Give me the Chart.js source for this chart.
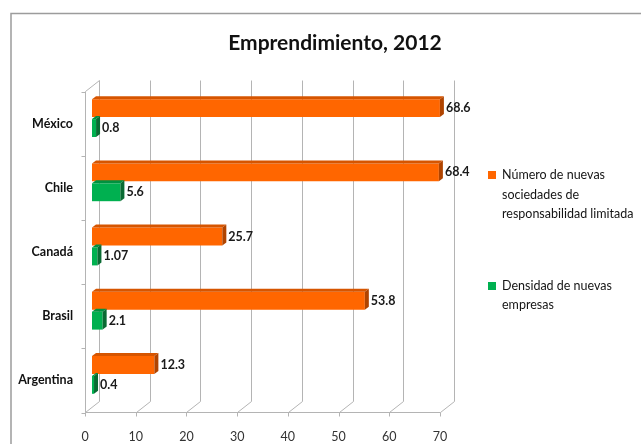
<!DOCTYPE html>
<html lang="es">
<head>
    <meta charset="UTF-8">
    <title>Emprendimiento, 2012</title>
    <script src="https://cdn.jsdelivr.net/npm/chart.js"></script>
    <style>
        body { margin: 0; background: #fff; font-family: Lato, sans-serif; }
        #wrap { position: relative; width: 641px; height: 444px; overflow: hidden; }
        #legend { position: absolute; left: 488px; top: 165px; font-size: 12.5px; color: #151515; line-height: 19.5px; }
        #legend .item { position: relative; padding-left: 14px; margin-bottom: 52px; }
        #legend .box { position: absolute; left: 0; top: 6px; width: 8px; height: 8px; }
    </style>
</head>
<body>
<div id="wrap">
    <canvas id="chart" width="641" height="444"></canvas>
    <div id="legend"></div>
</div>
<script>
    const categories = ['México', 'Chile', 'Canadá', 'Brasil', 'Argentina'];
    const sociedades = [68.6, 68.4, 25.7, 53.8, 12.3];
    const densidad = [0.8, 5.6, 1.07, 2.1, 0.4];
    const seriesNames = [
        ['Número de nuevas', 'sociedades de', 'responsabilidad limitada'],
        ['Densidad de nuevas', 'empresas']
    ];
    const xMin = 0, xMax = 70, xStep = 10;

    const colors = [
        { front: '#FF6600', top: '#D65500', side: '#B04400' },
        { front: '#00B050', top: '#00913F', side: '#0A6B33' }
    ];

    // half of the 3D depth: bars sit in the middle, walls at the back
    const half = { x: 7, y: -5.5 };
    const barDepth = { x: 4, y: -3 };
    const wallColor = '#B4B4B4';

    Chart.defaults.font.family = 'Lato, sans-serif';

    const frameAndTitle = {
        id: 'frameAndTitle',
        beforeDraw(chart) {
            const ctx = chart.ctx;
            ctx.save();
            ctx.strokeStyle = '#9C9C9C';
            ctx.lineWidth = 1.5;
            ctx.beginPath();
            ctx.moveTo(11, 444);
            ctx.lineTo(11, 13.5);
            ctx.lineTo(641, 13.5);
            ctx.stroke();
            ctx.fillStyle = '#111';
            ctx.font = 'bold 21px Lato, sans-serif';
            ctx.textAlign = 'center';
            ctx.textBaseline = 'middle';
            ctx.fillText('Emprendimiento, 2012', 335, 43);
            ctx.restore();
        }
    };

    const walls = {
        id: 'walls',
        beforeDatasetsDraw(chart) {
            const ctx = chart.ctx;
            const xs = chart.scales.x;
            const area = chart.chartArea;
            const backTop = area.top + half.y, backBot = area.bottom + half.y;
            const frontTop = area.top - half.y, frontBot = area.bottom - half.y;
            ctx.save();
            ctx.strokeStyle = wallColor;
            ctx.lineWidth = 1;
            ctx.beginPath();
            for (let v = xMin; v <= xMax; v += xStep) {
                const px = Math.round(xs.getPixelForValue(v)) + 0.5;
                // back wall line and floor diagonal
                ctx.moveTo(px + half.x, backTop);
                ctx.lineTo(px + half.x, backBot);
                ctx.lineTo(px - half.x, frontBot);
                // small tick under the floor edge
                ctx.lineTo(px - half.x, frontBot + 4);
            }
            // left side wall
            const x0 = Math.round(xs.getPixelForValue(xMin)) + 0.5;
            ctx.moveTo(x0 + half.x, backTop);
            ctx.lineTo(x0 - half.x, frontTop);
            ctx.lineTo(x0 - half.x, frontBot);
            // floor front edge
            ctx.lineTo(Math.round(xs.getPixelForValue(xMax)) + 0.5 - half.x, frontBot);
            // category ticks on the side wall
            const n = categories.length;
            for (let i = 0; i <= n; i++) {
                const py = Math.round(frontTop + (frontBot - frontTop) * i / n) + 0.5;
                ctx.moveTo(x0 - half.x - 4, py);
                ctx.lineTo(x0 - half.x, py);
            }
            ctx.stroke();
            ctx.restore();
        }
    };

    const bars3d = {
        id: 'bars3d',
        afterDatasetsDraw(chart) {
            const ctx = chart.ctx;
            ctx.save();
            chart.data.datasets.forEach((ds, i) => {
                const c = colors[i];
                chart.getDatasetMeta(i).data.forEach((bar, j) => {
                    const p = bar.getProps(['x', 'y', 'base', 'height'], true);
                    const top = p.y - p.height / 2, bot = p.y + p.height / 2;
                    // top face
                    ctx.fillStyle = c.top;
                    ctx.beginPath();
                    ctx.moveTo(p.base, top);
                    ctx.lineTo(p.x, top);
                    ctx.lineTo(p.x + barDepth.x, top + barDepth.y);
                    ctx.lineTo(p.base + barDepth.x, top + barDepth.y);
                    ctx.closePath();
                    ctx.fill();
                    // end face
                    ctx.fillStyle = c.side;
                    ctx.beginPath();
                    ctx.moveTo(p.x, top);
                    ctx.lineTo(p.x + barDepth.x, top + barDepth.y);
                    ctx.lineTo(p.x + barDepth.x, bot + barDepth.y);
                    ctx.lineTo(p.x, bot);
                    ctx.closePath();
                    ctx.fill();
                    // value label
                    ctx.fillStyle = '#1a1a1a';
                    ctx.font = 'bold 12.5px Lato, sans-serif';
                    ctx.textAlign = 'left';
                    ctx.textBaseline = 'middle';
                    ctx.fillText(String(ds.data[j]), p.x + barDepth.x + 2, p.y);
                });
            });
            ctx.restore();
        }
    };

    new Chart(document.getElementById('chart'), {
        type: 'bar',
        data: {
            labels: categories,
            datasets: [
                { label: seriesNames[0].join(' '), data: sociedades, backgroundColor: colors[0].front },
                { label: seriesNames[1].join(' '), data: densidad, backgroundColor: colors[1].front }
            ]
        },
        options: {
            indexAxis: 'y',
            responsive: false,
            animation: false,
            categoryPercentage: 0.62,
            barPercentage: 0.9,
            layout: { padding: { top: 86, right: 194, left: 0, bottom: 0 } },
            plugins: {
                legend: { display: false },
                title: { display: false },
                tooltip: { enabled: false }
            },
            scales: {
                x: {
                    min: xMin,
                    max: xMax,
                    ticks: { stepSize: xStep, padding: 14, labelOffset: -half.x, color: '#333', font: { size: 12.5 } },
                    grid: { display: false },
                    border: { display: false },
                    afterFit(scale) { scale.height = 37; }
                },
                y: {
                    ticks: { padding: 11, labelOffset: -half.y, color: '#111', font: { size: 12.5, weight: 'bold' } },
                    grid: { display: false },
                    border: { display: false },
                    afterFit(scale) { scale.width = 92; }
                }
            }
        },
        plugins: [frameAndTitle, walls, bars3d]
    });

    // legend with wrapped series names
    const legend = document.getElementById('legend');
    seriesNames.forEach((lines, i) => {
        const item = document.createElement('div');
        item.className = 'item';
        const box = document.createElement('span');
        box.className = 'box';
        box.style.background = colors[i].front;
        item.appendChild(box);
        lines.forEach(t => {
            const line = document.createElement('div');
            line.textContent = t;
            item.appendChild(line);
        });
        legend.appendChild(item);
    });
</script>
</body>
</html>
